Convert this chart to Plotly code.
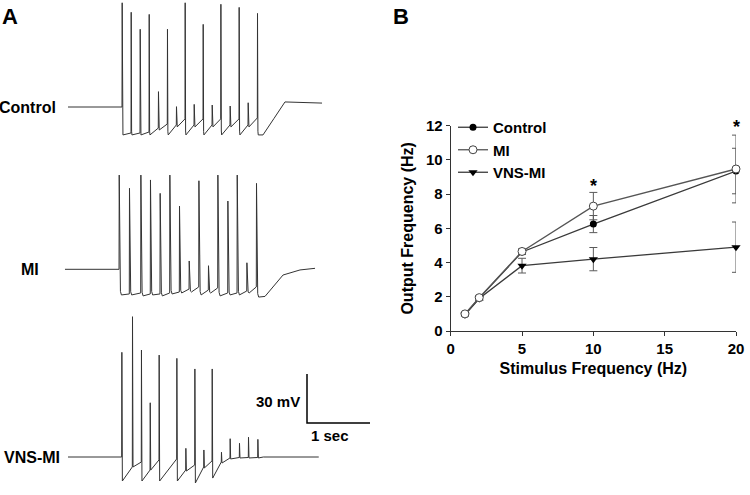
import plotly.graph_objects as go

# ---------------- Panel B data ----------------
stim_freq = [1, 2, 5, 10, 20]
control_out = [0.97, 1.92, 4.62, 6.25, 9.35]
control_err = [0.08, 0.12, 0.15, 0.50, 1.33]
mi_out = [1.0, 1.95, 4.65, 7.3, 9.47]
mi_err = [0.08, 0.12, 0.15, 0.80, 1.98]
vns_out = [0.95, 1.9, 3.82, 4.2, 4.9]
vns_err = [0.08, 0.12, 0.43, 0.68, 1.47]
star_x = [10, 20]
star_y = [8.5, 11.95]
x_ticks = [0, 5, 10, 15, 20]
y_ticks = [0, 2, 4, 6, 8, 10, 12]

# ---------------- Panel A data (time in s, voltage in mV rel. rest) ----------------
control_start_t = 0.0
control_spike_t = [0.857, 1.000, 1.143, 1.286, 1.433, 1.576, 1.719, 1.857, 2.000, 2.143, 2.286, 2.424, 2.571, 2.714, 2.857, 3.005]
control_peak = [63.8, 58.0, 47.6, 56.7, 9.4, 47.6, 0.2, 63.8, 1.6, 50.6, 1.2, 62.9, 0.6, 61.0, 2.6, 57.3]
control_pre = [0, -15.9, -15.9, -15.3, -12.9, -10.4, -11.0, -7.3, -11.0, -7.3, -11.0, -7.3, -11.0, -7.3, -11.0, -6.7]
control_after = [-17.1, -17.1, -17.1, -17.1, -14.1, -17.1, -12.2, -17.1, -12.2, -17.1, -12.2, -17.1, -12.2, -17.1, -12.2, -17.1]
control_rec_t = [3.095, 3.270, 3.444, 4.032]
control_rec_v = [-17.1, -7.0, 3.1, 2.4]

mi_start_t = -0.048
mi_spike_t = [0.810, 0.973, 1.154, 1.306, 1.460, 1.614, 1.767, 1.921, 2.075, 2.227, 2.376, 2.535, 2.683, 2.837, 2.989]
mi_peak = [57.7, 49.6, 57.7, 54.7, 46.5, 57.7, 38.7, 5.1, 54.2, 2.2, 57.7, 41.8, 57.7, 4.0, 52.6]
mi_pre = [0, -15.1, -14.5, -15.1, -15.1, -14.5, -13.9, -12.1, -10.8, -12.7, -11.4, -14.5, -14.5, -13.3, -10.8]
mi_after = [-15.7, -15.7, -16.3, -15.7, -16.3, -15.1, -14.5, -13.9, -15.7, -14.5, -16.3, -15.7, -15.7, -14.5, -17.0]
mi_rec_t = [3.127, 3.413, 3.683, 3.921]
mi_rec_v = [-16.6, -3.5, -0.4, 0.6]

vns_start_t = 0.0
vns_spike_t = [0.852, 1.021, 1.163, 1.302, 1.444, 1.725, 1.868, 2.011, 2.154, 2.286, 2.433, 2.571, 2.719, 2.862, 3.011]
vns_peak = [64.1, 85.9, 65.5, 33.2, 62.4, 60.4, 5.3, 53.9, 4.3, 53.9, 2.9, 11.2, 8.4, 12.1, 10.8]
vns_pre = [0, -6.1, -3.1, -8.0, -1.8, -1.2, -8.0, -4.9, -6.1, -2.4, -3.1, -0.6, -0.3, -0.3, -0.3]
vns_after = [-14.7, -6.1, -14.7, -8.0, -14.7, -14.7, -8.6, -15.9, -6.7, -12.9, -3.7, -1.2, -0.6, -0.6, -0.6]
vns_rec_t = [3.1, 3.98]
vns_rec_v = [0.0, 0.0]

scale_bar_t = 1.0     # seconds
scale_bar_mv = 30.0   # mV

# ---------------- layout constants ----------------
W, H = 750, 495
PX_PER_S = 63.0
MV_PER_PX = 30.0 / 49.0
T0_PX = 68.0
offsets = {"Control": -107 * MV_PER_PX, "MI": -269.3 * MV_PER_PX, "VNS-MI": -457 * MV_PER_PX}
label_right_px = {"Control": 58, "MI": 41, "VNS-MI": 62}
bar_corner_t = (307 - T0_PX) / PX_PER_S
bar_corner_y = -423 * MV_PER_PX
FONT = "Liberation Sans, Arial, sans-serif"
TRACE_COLOR = "#333333"


def build_trace(start_t, spike_t, peak, pre, after, rec_t, rec_v, decay):
    xs, ys = [start_t], [0.0]
    for i, t in enumerate(spike_t):
        xs.append(t); ys.append(pre[i])
        xs.append(t + 0.003); ys.append(peak[i])
        amp = peak[i] - after[i]
        for f, frac in [(0.25, 0.12), (0.55, 0.03), (1.0, 0.0)]:
            xs.append(t + 0.003 + f * decay)
            ys.append(after[i] + frac * amp)
    xs += list(rec_t); ys += list(rec_v)
    return xs, ys


fig = go.Figure()

traces_a = [
    ("Control", control_start_t, control_spike_t, control_peak, control_pre, control_after, control_rec_t, control_rec_v, 0.012),
    ("MI", mi_start_t, mi_spike_t, mi_peak, mi_pre, mi_after, mi_rec_t, mi_rec_v, 0.035),
    ("VNS-MI", vns_start_t, vns_spike_t, vns_peak, vns_pre, vns_after, vns_rec_t, vns_rec_v, 0.008),
]
for name, st, sp, pk, pr, af, rt, rv, dec in traces_a:
    xs, ys = build_trace(st, sp, pk, pr, af, rt, rv, dec)
    off = offsets[name]
    fig.add_trace(go.Scatter(x=xs, y=[v + off for v in ys], mode="lines",
                             line=dict(color=TRACE_COLOR, width=1),
                             showlegend=False, hoverinfo="skip", cliponaxis=False,
                             xaxis="x", yaxis="y"))
    fig.add_annotation(x=label_right_px[name] / W, xref="paper", xanchor="right",
                       y=off, yref="y", yanchor="middle", text=name, showarrow=False,
                       font=dict(size=16, family=FONT, color="black", weight="bold"))

# scale bar
fig.add_trace(go.Scatter(x=[bar_corner_t, bar_corner_t, bar_corner_t + scale_bar_t],
                         y=[bar_corner_y + scale_bar_mv, bar_corner_y, bar_corner_y],
                         mode="lines", line=dict(color="black", width=1.5),
                         showlegend=False, hoverinfo="skip", xaxis="x", yaxis="y"))
fig.add_annotation(x=bar_corner_t - 0.08, y=bar_corner_y + scale_bar_mv / 2 - 2, xref="x", yref="y",
                   xanchor="right", yanchor="middle", text="30 mV", showarrow=False,
                   font=dict(size=15, family=FONT, color="black", weight="bold"))
fig.add_annotation(x=bar_corner_t + scale_bar_t * 0.36, y=bar_corner_y - 1.5, xref="x", yref="y",
                   xanchor="center", yanchor="top", text="1 sec", showarrow=False,
                   font=dict(size=15, family=FONT, color="black", weight="bold"))

# ---------------- Panel B ----------------
line_col = "#3a3a3a"
err_col = "#5a5a5a"
fig.add_trace(go.Scatter(x=stim_freq, y=control_out, name="Control", mode="lines+markers",
                         error_y=dict(type="data", array=control_err, color=err_col, thickness=1, width=4),
                         line=dict(color=line_col, width=1.3), cliponaxis=False,
                         marker=dict(symbol="circle", size=7, color="black"),
                         xaxis="x2", yaxis="y2", legendrank=1))
fig.add_trace(go.Scatter(x=stim_freq, y=vns_out, name="VNS-MI", mode="lines+markers",
                         error_y=dict(type="data", array=vns_err, color=err_col, thickness=1, width=4),
                         line=dict(color=line_col, width=1.3), cliponaxis=False,
                         marker=dict(symbol="triangle-down", size=8, color="black"),
                         xaxis="x2", yaxis="y2", legendrank=3))
fig.add_trace(go.Scatter(x=stim_freq, y=mi_out, name="MI", mode="lines+markers",
                         error_y=dict(type="data", array=mi_err, color=err_col, thickness=1, width=4),
                         line=dict(color="#555555", width=1.3), cliponaxis=False,
                         marker=dict(symbol="circle", size=8, color="white",
                                     line=dict(color="#444444", width=1)),
                         xaxis="x2", yaxis="y2", legendrank=2))

for sx, sy in zip(star_x, star_y):
    fig.add_annotation(x=sx, y=sy / 12.0, xref="x2", yref="y2 domain", text="*", showarrow=False,
                       yanchor="middle", font=dict(size=18, family=FONT, color="black", weight="bold"))

# panel letters
fig.add_annotation(x=0 / W, y=1 - 2 / H, xref="paper", yref="paper", xanchor="left", yanchor="top",
                   text="A", showarrow=False, font=dict(size=22, family=FONT, color="black", weight="bold"))
fig.add_annotation(x=391 / W, y=1 - 2 / H, xref="paper", yref="paper", xanchor="left", yanchor="top",
                   text="B", showarrow=False, font=dict(size=22, family=FONT, color="black", weight="bold"))

axis_font = dict(size=15, family=FONT, color="black", weight="bold")
fig.update_layout(
    template="none",
    width=W, height=H, autosize=False,
    margin=dict(l=0, r=0, t=0, b=0, pad=0, autoexpand=False),
    paper_bgcolor="white", plot_bgcolor="white",
    font=dict(family=FONT, color="black"),
    xaxis=dict(domain=[0, 0.5], range=[-T0_PX / PX_PER_S, (375 - T0_PX) / PX_PER_S], visible=False,
               automargin=False),
    yaxis=dict(domain=[0, 1], range=[-H * MV_PER_PX, 0], visible=False, automargin=False),
    xaxis2=dict(domain=[450.7 / W, 736 / W], range=[0, 20], anchor="y2", automargin=False,
                tickvals=x_ticks, ticks="outside", ticklen=4, tickcolor="#333",
                showline=True, linecolor="#333", linewidth=1, showgrid=False, zeroline=False,
                tickfont=axis_font,
                title=dict(text="Stimulus Frequency (Hz)", standoff=6,
                           font=dict(size=16, family=FONT, color="black", weight="bold"))),
    yaxis2=dict(domain=[1 - 331 / H, 1 - 125.7 / H], range=[0, 12], anchor="x2", automargin=False,
                tickvals=y_ticks, ticks="outside", ticklen=4, tickcolor="#333",
                showline=True, linecolor="#333", linewidth=1, showgrid=False, zeroline=False,
                tickfont=axis_font,
                title=dict(text="Output Frequency (Hz)", standoff=8,
                           font=dict(size=16, family=FONT, color="black", weight="bold"))),
    legend=dict(x=453 / W, y=1 - 111 / H, xanchor="left", yanchor="top",
                bgcolor="rgba(0,0,0,0)", font=dict(size=15, family=FONT, color="black", weight="bold"),
                itemwidth=30, tracegroupgap=0),
    showlegend=True,
)

fig.write_html("out.html", config={"displayModeBar": False},
               post_script="document.body.style.margin='0px';document.body.style.overflow='hidden';")
